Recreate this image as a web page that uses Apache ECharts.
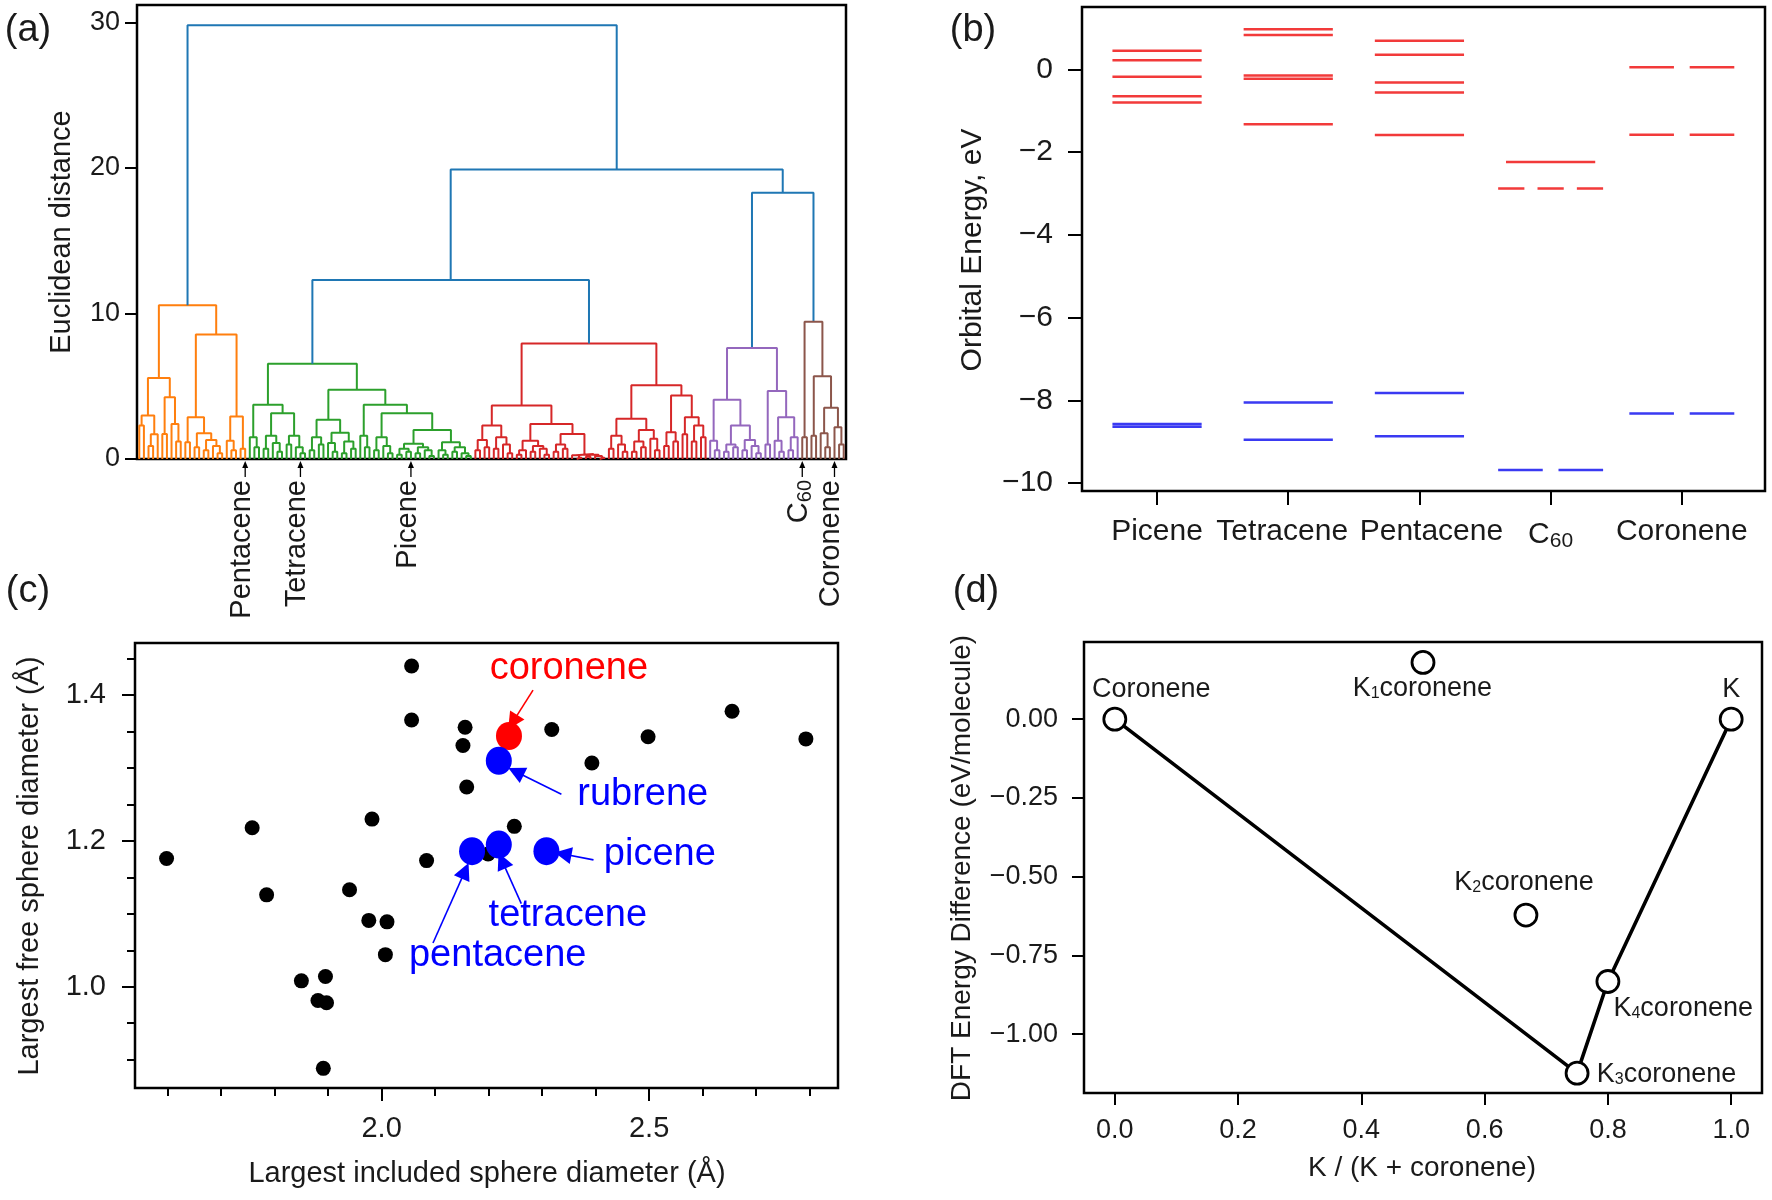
<!DOCTYPE html>
<html>
<head>
<meta charset="utf-8">
<script src="https://cdn.jsdelivr.net/npm/echarts@6/dist/echarts.min.js"></script>
<style>
  html, body { margin: 0; padding: 0; background: #fff; }
  #main { width: 1772px; height: 1200px; }
</style>
</head>
<body>
<div id="main"></div>
<script>
var FONT = 'Liberation Sans, Arial, Helvetica, sans-serif';
var INK = '#1a1a1a';

// ---- (a) dendrogram: node = [height, left, right], 0 = leaf ----
var orangeTree = [10.57,
  [5.56, [2.99, [2.3, 0, 0], [1.7, [0.9, 0, 0], 0]], [4.25, [1.72, 0, 0], [2.41, 0, [1.2, 0, 0]]]],
  [8.55, [2.87, [1.15, 0, 0], [1.77, [0.8, 0, 0], [1.3, [0.6, 0, 0], [0.9, 0, [0.4, 0, 0]]]]],
         [2.92, [1.26, 0, [0.6, 0, 0]], [0.7, 0, 0]]]];
var greenTree = [6.55,
  [3.72, [1.5, 0, [0.8, 0, 0]],
         [3.15, [1.6, [0.7, 0, 0], [1.1, 0, [0.5, 0, 0]]], [1.6, [1.0, 0, 0], [0.8, 0, [0.4, 0, 0]]]]],
  [4.76, [2.69, [1.5, [0.6, 0, 0], [1.0, 0, 0]], [1.8, [1.1, 0, [0.5, 0, 0]], [1.2, [0.4, 0, 0], [0.7, 0, 0]]]],
         [3.72, [1.6, 0, [0.8, 0, 0]],
                [3.15, [1.5, [0.6, 0, 0], [0.9, 0, [0.4, 0, 0]]],
                       [2.0, [1.05, [0.7, [0.3, 0, 0], [0.5, 0, 0]], [0.8, [0.4, 0, 0], [0.6, 0, [0.2, 0, 0]]]],
                             [1.15, [0.6, 0, [0.3, 0, 0]], [0.8, [0.5, 0, 0], [0.4, 0, [0.2, 0, 0]]]]]]]]];
var redTree = [7.93,
  [3.68, [2.3, [1.3, [0.6, 0, 0], [0.8, 0, 0]], [1.5, [0.7, 0, 0], [1.0, 0, [0.4, 0, 0]]]],
         [2.41, [1.26, [0.6, [0.3, 0, 0], 0], [0.9, [0.5, 0, 0], [0.7, 0, [0.3, 0, 0]]]],
                [1.72, [1.0, [0.5, 0, 0], [0.7, 0, 0]],
                       [0.35, [0.25, 0, [0.1, 0, 0]], [0.3, [0.15, 0, 0], [0.2, 0, [0.1, 0, 0]]]]]]],
  [5.06, [2.76, [1.6, [0.7, 0, 0], [1.0, 0, [0.5, 0, 0]]], [2.0, [1.2, [0.5, 0, 0], [0.8, 0, 0]], [1.4, 0, [0.6, 0, 0]]]],
         [4.37, [1.84, [0.9, 0, 0], [1.2, 0, 0]], [2.87, [1.7, 0, 0], [2.3, [1.2, 0, 0], [1.5, 0, 0]]]]]];
var purpleTree = [7.63,
  [4.07, [1.26, 0, [0.6, 0, 0]], [2.3, [1.0, [0.5, 0, 0], [0.8, 0, 0]], [1.3, [0.6, 0, 0], [0.9, 0, [0.4, 0, 0]]]]],
  [4.67, [1.0, 0, 0], [2.87, [1.26, 0, [0.5, 0, 0]], [1.5, [0.6, 0, 0], 0]]]];
var brownTree = [9.43,
  [1.5, 0, 0],
  [5.68, [1.6, 0, 0], [3.52, [1.77, 0, [0.8, 0, 0]], [2.18, 0, [1.0, 0, 0]]]]];
var clusterTrees = [orangeTree, greenTree, redTree, purpleTree, brownTree];
var clusterColors = ['#ff7f0e', '#2ca02c', '#d62728', '#9467bd', '#8c564b'];
var aboveColor = '#1f77b4';
var topTree = [29.8, 'c0', [19.9, [12.3, 'c1', 'c2'], [18.3, 'c3', 'c4']]];
var markedNames = ['Pentacene', 'Tetracene', 'Picene', 'C60', 'Coronene'];
var markedLeaves = [23, 35, 59, 144, 151];

// ---- (b) orbital energies (eV) ----
var molecules = ['Picene', 'Tetracene', 'Pentacene', 'C60', 'Coronene'];
var lumoLevels = [[0.45, 0.22, -0.18, -0.65, -0.80], [0.97, 0.83, -0.15, -0.23, -1.33],
                  [0.69, 0.35, -0.32, -0.56, -1.59], [-2.24, -2.88], [0.05, -1.58]];
var lumoDegeneracy = [[1, 1, 1, 1, 1], [1, 1, 1, 1, 1], [1, 1, 1, 1, 1], [1, 3], [2, 2]];
var homoLevels = [[-8.57, -8.64], [-8.05, -8.95], [-7.82, -8.87], [-9.68], [-8.32]];
var homoDegeneracy = [[1, 1], [1, 1], [1, 1], [2], [2]];

// ---- (c) pore diameters (Angstrom) ----
var lcdBlack = [1.598, 1.758, 1.785, 1.850, 1.895, 1.881, 1.897, 1.891, 1.940, 1.976, 2.010, 2.007, 1.982,
                2.056, 2.056, 2.084, 2.156, 2.152, 2.159, 2.248, 2.199, 2.318, 2.393, 2.498, 2.655, 2.793];
var pldBlack = [1.176, 1.218, 1.126, 1.008, 1.014, 0.981, 0.978, 0.888, 1.133, 1.091, 1.089, 1.044, 1.230,
                1.440, 1.366, 1.173, 1.356, 1.331, 1.274, 1.220, 1.182, 1.353, 1.307, 1.343, 1.378, 1.340];
var hlNames = ['coronene', 'rubrene', 'picene', 'tetracene', 'pentacene'];
var hlColors = ['#ff0000', '#0000ff', '#0000ff', '#0000ff', '#0000ff'];
var hlLcd = [2.238, 2.219, 2.308, 2.219, 2.169];
var hlPld = [1.344, 1.310, 1.186, 1.195, 1.186];
var noteX = [2.350, 2.488, 2.520, 2.348, 2.217];
var noteY = [1.436, 1.264, 1.181, 1.098, 1.043];
var arrowFrom = [[2.283, 1.407], [2.336, 1.264], [2.396, 1.174], [2.261, 1.114], [2.096, 1.060]];
var arrowTo = [[2.245, 1.363], [2.251, 1.295], [2.339, 1.182], [2.225, 1.173], [2.156, 1.159]];

// ---- (d) DFT energies ----
var phaseNames = ['Coronene', 'K{s|1}coronene', 'K{s|2}coronene', 'K{s|3}coronene', 'K{s|4}coronene', 'K'];
var ratioK = [0, 0.5, 0.667, 0.75, 0.8, 1.0];
var dftEnergy = [0, 0.180, -0.622, -1.124, -0.833, 0];
var hullIndex = [0, 3, 4, 5];
var labelX = [-0.037, 0.499, 0.664, 0.782, 0.809, 1.0];
var labelY = [0.095, 0.096, -0.520, -1.129, -0.918, 0.095];
var labelAlign = ['left', 'center', 'center', 'left', 'left', 'center'];

// build dendrogram U-links
var dendro = {};
var leafPos = 0;
function place(node, color) {
  if (node === 0) { leafPos += 1; return [leafPos - 0.5, 0]; }
  if (typeof node === 'string') {
    var k = +node.slice(1);
    return place(clusterTrees[k], clusterColors[k]);
  }
  var a = place(node[1], color), b = place(node[2], color);
  var arr = dendro[color] || (dendro[color] = []);
  arr.push([a[0], a[1]], [a[0], node[0]], [b[0], node[0]], [b[0], b[1]], [b[0], '-']);
  return [(a[0] + b[0]) / 2, node[0]];
}
place(topTree, aboveColor);
var nLeaves = leafPos;

var SEGMENTS = {1: [[-0.34, 0.34]], 2: [[-0.40, -0.06], [0.06, 0.40]], 3: [[-0.40, -0.20], [-0.10, 0.10], [0.20, 0.40]]};
function levelData(levels, deg) {
  var out = [];
  levels.forEach(function (list, i) {
    list.forEach(function (e, j) {
      SEGMENTS[deg[i][j]].forEach(function (s) {
        out.push([i + s[0], e], [i + s[1], e], [i + s[1], '-']);
      });
    });
  });
  return out;
}

function minus(v, d) { return (v < 0 ? '\u2212' : '') + Math.abs(v).toFixed(d); }

function axis(gridIndex, min, max, ticks, o) {
  o = o || {};
  return {
    gridIndex: gridIndex, type: 'value', min: min, max: max, position: o.position,
    axisLine: {show: false, onZero: false}, splitLine: {show: false},
    axisTick: ticks ? {show: true, customValues: ticks, length: o.tickLen || 12, lineStyle: {color: '#000', width: 2}} : {show: false},
    axisLabel: o.labels ? {show: true, customValues: ticks, formatter: o.fmt, fontSize: o.fontSize, margin: o.margin,
                           color: INK, fontFamily: FONT, rich: o.rich} : {show: false}
  };
}

var gridBox = {show: true, borderColor: '#000', borderWidth: 2.5, containLabel: false, outerBoundsMode: 'none'};
function grid(l, t, w, h) { return Object.assign({left: l, top: t, width: w, height: h}, gridBox); }

var series = [];
Object.keys(dendro).forEach(function (c) {
  series.push({type: 'line', xAxisIndex: 0, yAxisIndex: 0, data: dendro[c], showSymbol: false, symbol: 'none',
    connectNulls: false, lineStyle: {color: c, width: 2}, z: 3});
});
series.push({type: 'line', xAxisIndex: 1, yAxisIndex: 1, data: levelData(lumoLevels, lumoDegeneracy),
  symbol: 'none', connectNulls: false, lineStyle: {color: '#f23a3a', width: 2.5}});
series.push({type: 'line', xAxisIndex: 1, yAxisIndex: 1, data: levelData(homoLevels, homoDegeneracy),
  symbol: 'none', connectNulls: false, lineStyle: {color: '#3a3af2', width: 2.5}});
series.push({type: 'scatter', xAxisIndex: 2, yAxisIndex: 2, symbolSize: 15, z: 2,
  itemStyle: {color: '#000', opacity: 1}, data: lcdBlack.map(function (x, i) { return [x, pldBlack[i]]; })});
series.push({type: 'scatter', xAxisIndex: 2, yAxisIndex: 2, symbolSize: [26, 28], z: 3,
  data: hlLcd.map(function (x, i) { return {name: hlNames[i], value: [x, hlPld[i]], itemStyle: {color: hlColors[i], opacity: 1}}; })});
series.push({type: 'lines', coordinateSystem: 'cartesian2d', xAxisIndex: 2, yAxisIndex: 2, z: 4,
  symbol: ['none', 'triangle'], symbolSize: 17, lineStyle: {width: 1.6, opacity: 1},
  data: arrowFrom.map(function (f, i) { return {coords: [f, arrowTo[i]], lineStyle: {color: hlColors[i]}, itemStyle: {color: hlColors[i]}}; })});
series.push({type: 'line', xAxisIndex: 4, yAxisIndex: 4, symbol: 'none', z: 2,
  lineStyle: {color: '#000', width: 3.6}, data: hullIndex.map(function (i) { return [ratioK[i], dftEnergy[i]]; })});
series.push({type: 'scatter', xAxisIndex: 4, yAxisIndex: 4, symbol: 'circle', symbolSize: 22, z: 3,
  itemStyle: {color: '#fff', borderColor: '#000', borderWidth: 2.8, opacity: 1},
  data: ratioK.map(function (x, i) { return [x, dftEnergy[i]]; })});

// category labels of (b); Tetracene and Pentacene sit a little apart in the source
var bRich = {
  n: {fontSize: 30, fontFamily: FONT, color: INK},
  t: {fontSize: 30, fontFamily: FONT, color: INK, padding: [0, 12, 0, 0]},
  p: {fontSize: 30, fontFamily: FONT, color: INK, padding: [0, 0, 0, 24]},
  s: {fontSize: 21, fontFamily: FONT, color: INK, padding: [14, 0, 0, 0]}
};

var option = {
  animation: false,
  backgroundColor: '#fff',
  textStyle: {fontFamily: FONT},
  grid: [grid(137, 5, 709, 454), grid(1082, 7, 683, 484), grid(135, 643, 703, 445), grid(1084, 642, 678, 451)],
  xAxis: [
    {gridIndex: 0, type: 'value', min: 0, max: nLeaves, show: false},
    axis(1, -0.572, 4.634, [0, 1, 2, 3, 4], {labels: true, position: 'bottom', tickLen: 14, fontSize: 30, margin: 26,
      fmt: function (v) {
        var i = Math.round(v);
        if (i === 3) return '{n|C}{s|60}';
        return '{' + (i === 1 ? 't' : i === 2 ? 'p' : 'n') + '|' + molecules[i] + '}';
      },
      rich: bRich}),
    axis(2, 1.539, 2.853, [2.0, 2.5], {labels: true, position: 'bottom', tickLen: 13, fontSize: 29, margin: 26,
      fmt: function (v) { return v.toFixed(1); }}),
    axis(2, 1.539, 2.853, [1.6, 1.7, 1.8, 1.9, 2.1, 2.2, 2.3, 2.4, 2.6, 2.7, 2.8], {position: 'bottom', tickLen: 8}),
    axis(3, -0.05, 1.05, [0, 0.2, 0.4, 0.6, 0.8, 1.0], {labels: true, position: 'bottom', tickLen: 12, fontSize: 27, margin: 24,
      fmt: function (v) { return v.toFixed(1); }})
  ],
  yAxis: [
    axis(0, 0, 31.2, [0, 10, 20, 30], {labels: true, position: 'left', tickLen: 12, fontSize: 27, margin: 17,
      fmt: function (v) { return String(v); }}),
    axis(1, -10.19, 1.505, [-10, -8, -6, -4, -2, 0], {labels: true, position: 'left', tickLen: 14, fontSize: 30, margin: 29,
      fmt: function (v) { return minus(v, 0); }}),
    axis(2, 0.861, 1.4716, [1.0, 1.2, 1.4], {labels: true, position: 'left', tickLen: 13, fontSize: 29, margin: 29,
      fmt: function (v) { return v.toFixed(1); }}),
    axis(2, 0.861, 1.4716, [0.9, 0.95, 1.05, 1.1, 1.15, 1.25, 1.3, 1.35, 1.45], {position: 'left', tickLen: 8}),
    axis(3, -1.187, 0.245, [-1.0, -0.75, -0.5, -0.25, 0], {labels: true, position: 'left', tickLen: 12, fontSize: 27, margin: 26,
      fmt: function (v) { return minus(v, 2); }})
  ],
  series: series
};

var chart = echarts.init(document.getElementById('main'));
chart.setOption(option);

// texts that sit on data positions
function text(x, y, str, o) {
  o = o || {};
  return {type: 'text', x: x, y: y, rotation: o.rot || 0, z: 20,
    style: {text: str, fill: o.color || INK, fontSize: o.size || 29, fontFamily: FONT,
            align: o.align || 'center', verticalAlign: 'middle', rich: o.rich}};
}
var graphics = [
  text(28, 31, '(a)', {size: 38}), text(973, 31, '(b)', {size: 38}),
  text(28, 592, '(c)', {size: 38}), text(976, 592, '(d)', {size: 38}),
  text(62, 232, 'Euclidean distance', {rot: Math.PI / 2}),
  text(973, 250, 'Orbital Energy, eV', {rot: Math.PI / 2, size: 30}),
  text(30, 866, 'Largest free sphere diameter (\u00c5)', {rot: Math.PI / 2}),
  text(487, 1174, 'Largest included sphere diameter (\u00c5)'),
  text(962, 868, 'DFT Energy Difference (eV/molecule)', {rot: Math.PI / 2, size: 28}),
  text(1422, 1168, 'K / (K + coronene)', {size: 28})
];
var subRich = {s: {fontSize: 20, fontFamily: FONT, fill: INK, padding: [13, 0, 0, 0]}};
markedLeaves.forEach(function (leaf, i) {
  var p = chart.convertToPixel({xAxisIndex: 0, yAxisIndex: 0}, [leaf + 0.5, 0]);
  var x = p[0], y = p[1];
  graphics.push({type: 'line', z: 20, shape: {x1: x, y1: y + 18, x2: x, y2: y + 7}, style: {stroke: '#000', lineWidth: 1.3}});
  graphics.push({type: 'polygon', z: 20, shape: {points: [[x, y + 2], [x - 3, y + 9], [x + 3, y + 9]]}, style: {fill: '#000'}});
  var label = markedNames[i] === 'C60' ? 'C{s|60}' : markedNames[i];
  graphics.push(text(x - 3, y + 21, label, {rot: Math.PI / 2, align: 'right', rich: subRich}));
});
hlNames.forEach(function (n, i) {
  var p = chart.convertToPixel({xAxisIndex: 2, yAxisIndex: 2}, [noteX[i], noteY[i]]);
  graphics.push(text(p[0], p[1], n, {size: 38, color: hlColors[i]}));
});
var dRich = {s: {fontSize: 16, fontFamily: FONT, fill: INK, padding: [10, 0, 0, 0]}};
phaseNames.forEach(function (n, i) {
  var p = chart.convertToPixel({xAxisIndex: 4, yAxisIndex: 4}, [labelX[i], labelY[i]]);
  graphics.push(text(p[0], p[1], n, {size: 27, align: labelAlign[i], rich: dRich}));
});
chart.setOption({graphic: graphics});
</script>
</body>
</html>
